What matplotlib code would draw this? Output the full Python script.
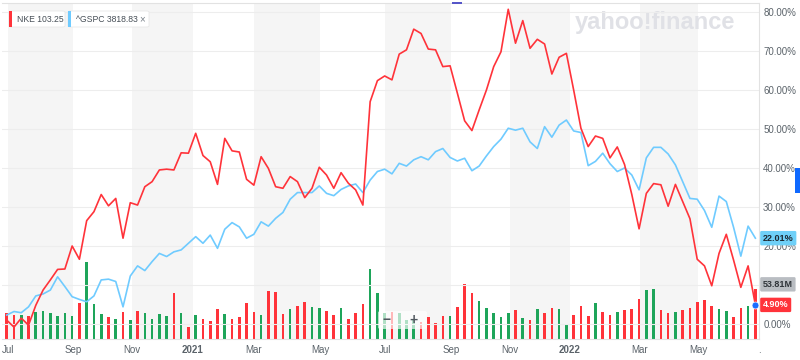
import numpy as np
import matplotlib
matplotlib.use("Agg")
import matplotlib.pyplot as plt
from matplotlib.patches import FancyBboxPatch, Rectangle

plt.rcParams['font.family'] = ['Liberation Sans', 'DejaVu Sans']

# weekly % change since start
nke = [1.0, -0.8, 1.5, -0.3, 4.8, 8.7, 11.3, 14.0, 14.1, 20.0,
       16.6, 26.5, 28.8, 33.2, 30.3, 32.2, 22.0, 31.1, 30.5, 35.2,
       36.5, 39.5, 39.7, 39.5, 43.9, 43.8, 48.9, 43.2, 41.6, 35.8,
       47.6, 44.4, 44.1, 37.1, 35.6, 42.9, 39.9, 35.2, 34.8, 37.8,
       36.5, 32.4, 34.8, 40.2, 38.2, 34.8, 38.8, 36.1, 34.4, 30.5,
       57.0, 62.4, 63.6, 62.6, 69.2, 70.3, 75.6, 74.5, 70.5, 70.3,
       66.0, 66.2, 59.2, 52.1, 49.6, 54.9, 60.0, 66.0, 69.8, 80.7,
       72.0, 77.8, 70.7, 73.0, 71.8, 64.1, 68.4, 69.4, 60.0, 50.2,
       45.5, 48.2, 47.6, 42.6, 45.4, 40.9, 33.2, 24.4, 33.5, 36.0,
       35.7, 30.2, 35.8, 31.4, 27.0, 16.6, 14.9, 9.8, 18.1, 23.0,
       16.4, 9.4, 14.9, 4.90]
gspc = [2.3, 3.2, 2.9, 4.4, 7.2, 7.7, 8.7, 12.1, 9.6, 7.0,
        6.3, 5.7, 7.2, 11.3, 11.5, 10.9, 4.4, 12.3, 14.9, 13.7,
        16.0, 18.1, 17.3, 18.5, 19.0, 20.7, 22.4, 20.7, 22.8, 19.4,
        24.3, 26.0, 24.9, 22.0, 23.0, 26.2, 25.1, 27.1, 28.6, 32.0,
        33.7, 33.7, 33.7, 35.4, 33.5, 32.9, 34.5, 35.4, 35.9, 33.7,
        36.9, 39.1, 39.7, 38.5, 41.2, 40.5, 42.1, 42.9, 42.1, 44.2,
        45.0, 42.7, 41.8, 42.5, 39.3, 40.5, 43.1, 45.5, 47.4, 50.2,
        49.7, 50.2, 46.7, 45.0, 50.6, 47.9, 51.0, 52.3, 49.5, 49.1,
        40.6, 41.7, 43.8, 41.1, 39.1, 40.0, 38.2, 34.4, 42.6, 45.3,
        45.3, 43.6, 40.8, 36.5, 32.2, 32.0, 29.1, 24.8, 32.8, 31.4,
        24.8, 17.4, 25.1, 22.01]
# NKE weekly volume, millions
volume = [27.8, 26.0, 26.0, 24.9, 29.6, 30.3, 27.8, 25.2, 27.8, 24.9,
          38.7, 83.1, 37.9, 27.1, 23.5, 21.3, 29.6, 20.6, 30.3, 27.8,
          21.3, 27.1, 24.9, 49.5, 27.8, 13.3, 25.7, 21.7, 19.8, 32.5,
          27.1, 21.3, 23.5, 38.7, 29.2, 25.7, 52.0, 50.6, 26.7, 32.2,
          35.7, 40.4, 34.7, 33.6, 30.6, 25.7, 33.6, 21.3, 27.8, 37.9,
          75.5, 50.1, 28.2, 29.2, 28.2, 20.6, 21.7, 18.7, 24.2, 17.0,
          24.9, 24.9, 34.3, 59.2, 49.5, 41.2, 33.2, 28.5, 23.5, 27.8,
          31.4, 22.4, 20.6, 32.5, 27.8, 33.2, 32.2, 15.2, 26.0, 36.1,
          24.9, 38.7, 29.2, 26.0, 29.6, 31.1, 32.5, 43.0, 53.4, 54.5,
          31.4, 28.5, 29.6, 31.7, 33.2, 40.4, 41.9, 35.7, 32.2, 30.3,
          24.2, 33.2, 35.7, 53.81]
vol_up = [0, 0, 1, 0, 1, 1, 1, 1, 1, 1,
          0, 1, 1, 1, 0, 1, 0, 1, 0, 1,
          1, 1, 1, 0, 1, 0, 1, 0, 0, 0,
          1, 0, 0, 0, 0, 1, 0, 0, 0, 1,
          0, 0, 1, 1, 0, 0, 1, 0, 0, 0,
          1, 1, 1, 0, 1, 1, 1, 0, 0, 0,
          0, 1, 0, 0, 0, 1, 1, 1, 1, 1,
          0, 1, 0, 1, 0, 0, 1, 1, 0, 0,
          0, 1, 0, 0, 1, 0, 0, 0, 1, 1,
          0, 0, 1, 0, 0, 0, 0, 0, 1, 1,
          0, 0, 1, 0]
nke_price = 103.25
gspc_price = 3818.83

# month ticks, in weeks since the first bar
tick_pos = [0.2, 9.1, 17.2, 25.6, 34.0, 43.1, 52.0, 61.1, 69.2, 77.5, 87.1, 95.1, 103.5]
tick_labels = ['Jul', 'Sep', 'Nov', '2021', 'Mar', 'May', 'Jul', 'Sep', 'Nov', '2022', 'Mar', 'May', '.']
pct_ticks = [0, 10, 20, 30, 40, 50, 60, 70, 80]
hidden_pct = [10]   # label sits under the volume badge

RED = '#ff333a'
BLUE = '#6fcbff'
GREEN = '#1ea55a'
GREY = '#5b636a'

W, H = 800, 360
fig = plt.figure(figsize=(8, 3.6), dpi=100)


def fx(px):
    return px / W


def fy(py):
    return 1 - py / H


ax = fig.add_axes([fx(2), fy(339), fx(759) - fx(2), fy(3) - fy(339)])
axv = ax.twinx()
axv.set_zorder(0)
ax.set_zorder(1)
ax.patch.set_visible(False)

x = np.arange(len(nke))

# background month bands + volume
for k in range(0, len(tick_pos) - 1, 2):
    axv.axvspan(tick_pos[k], tick_pos[k + 1], color='#f5f5f5', lw=0, zorder=0)
axv.bar(x, volume, width=0.36, color=[GREEN if u else RED for u in vol_up], zorder=2)
axv.set_ylim(0, 364)
axv.set_yticks([])
for s in axv.spines.values():
    s.set_visible(False)

axv.text(fx(575), fy(29), 'yahoo!finance', transform=fig.transFigure, fontsize=17,
         fontweight='bold', color='#e0e1e6', va='baseline', ha='left', zorder=1)

ax.plot(x, gspc, color=BLUE, lw=1.2)
ax.plot(x, nke, color=RED, lw=1.2)
ax.plot(x[-1], nke[-1], 'o', ms=5, color='#1a6cff', mec='white', mew=0.5, clip_on=False, zorder=12)

ax.set_xlim(-0.65, 103.48)
ax.set_ylim(-3.846, 82.31)
ax.yaxis.tick_right()
ax.set_yticks(pct_ticks)
ax.set_yticklabels(['' if v in hidden_pct else f'{v:.2f}%' for v in pct_ticks])
ax.set_xticks(tick_pos)
ax.set_xticklabels(tick_labels)
for t in ax.get_xticklabels():
    if t.get_text().startswith('20'):
        t.set_fontweight('bold')
        t.set_color('#2b2f33')
ax.yaxis.grid(True, color='#ededed', lw=0.8)
ax.set_axisbelow(True)
ax.tick_params(axis='both', length=0, labelsize=7, labelcolor=GREY)
ax.tick_params(axis='x', pad=4)
ax.tick_params(axis='y', pad=3)
ax.spines['left'].set_visible(False)
for side in ['top', 'right', 'bottom']:
    ax.spines[side].set_color('#e2e2e2')
    ax.spines[side].set_linewidth(0.8)


def badge(xy, coords, text, fc, tc, dy=0):
    ax.annotate(text, xy=xy, xycoords=coords, xytext=(2.8, dy), textcoords='offset points',
                ha='left', va='center', fontsize=6.5, color=tc, fontweight='bold',
                bbox=dict(boxstyle='round,pad=0.3,rounding_size=0.15', fc=fc, ec='none'),
                annotation_clip=False, zorder=10)


badge((1, gspc[-1]), ax.get_yaxis_transform(), f'{gspc[-1]:.2f}%', '#6fd0f8', '#1c2730')
badge((1, volume[-1]), axv.get_yaxis_transform(), f'{volume[-1]:.2f}M', '#b9bdc2', '#2f3439', dy=3.6)
badge((1, nke[-1]), ax.get_yaxis_transform(), f'{nke[-1]:.2f}%', RED, 'white')

# legend chips
chips = [(9, 65, RED, f'NKE {nke_price:.2f}'), (68, 149, BLUE, f'^GSPC {gspc_price:.2f}')]
for x0, x1, c, label in chips:
    fig.add_artist(FancyBboxPatch((fx(x0), fy(27)), fx(x1 - x0), fy(11) - fy(27),
                                  boxstyle='round,pad=0,rounding_size=0.003',
                                  transform=fig.transFigure, fc='white', ec='#e8e8e8', lw=0.6, zorder=5))
    fig.add_artist(Rectangle((fx(x0), fy(27)), fx(2.5), fy(11) - fy(27),
                             transform=fig.transFigure, fc=c, ec='none', zorder=6))
    fig.text(fx(x0 + 8), fy(19), label, fontsize=6.2, color='#464e56', va='center', ha='left', zorder=7)
fig.text(fx(142), fy(19), '×', fontsize=7, color='#7a828a', va='center', ha='center', zorder=7)

# zoom control overlay
fig.add_artist(FancyBboxPatch((fx(378), fy(329)), fx(49), fy(311) - fy(329),
                              boxstyle='round,pad=0,rounding_size=0.004', transform=fig.transFigure,
                              fc='white', ec='none', alpha=0.65, zorder=5))
fig.text(fx(387), fy(320), '−', fontsize=10, fontweight='bold', color='#50575e', ha='center', va='center', zorder=6)
fig.text(fx(413.5), fy(320), '+', fontsize=10, fontweight='bold', color='#50575e', ha='center', va='center', zorder=6)

# small ui bits on the edges
fig.add_artist(Rectangle((fx(795), fy(193)), fx(5), fy(168) - fy(193), transform=fig.transFigure,
                         fc='#0f69ff', ec='none', zorder=6))
fig.add_artist(Rectangle((fx(452), fy(4)), fx(10), fy(1.5) - fy(4), transform=fig.transFigure,
                         fc='#5656c8', ec='none', zorder=6))

fig.savefig('out.png', dpi=100)
